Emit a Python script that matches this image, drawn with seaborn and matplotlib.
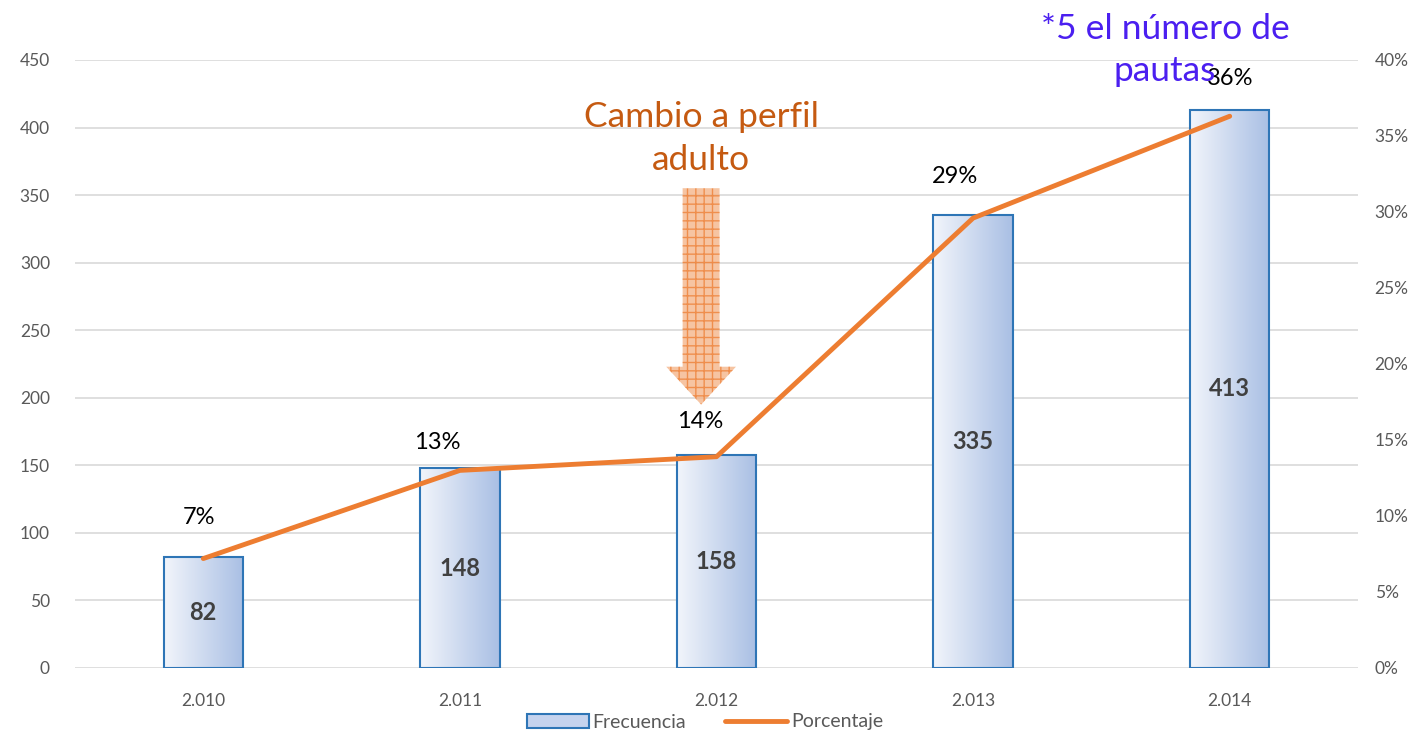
import numpy as np
import pandas as pd
import seaborn as sns
import matplotlib.pyplot as plt
from matplotlib.patches import Patch, FancyArrow
from matplotlib.lines import Line2D
from matplotlib.colors import LinearSegmentedColormap

# datos
anios = ['2.010', '2.011', '2.012', '2.013', '2.014']
frecuencia = [82, 148, 158, 335, 413]
porcentaje = [7.2, 13.0, 13.9, 29.6, 36.3]
etiquetas_pct = ['7%', '13%', '14%', '29%', '36%']
ticks_izq = [0, 50, 100, 150, 200, 250, 300, 350, 400, 450]
ticks_der = [0, 5, 10, 15, 20, 25, 30, 35, 40]

df = pd.DataFrame({'Año': anios, 'Frecuencia': frecuencia, 'Porcentaje': porcentaje})

sns.set_style('white')
plt.rcParams['font.family'] = ['Lato', 'DejaVu Sans']

gris = '#595959'
naranja = '#ed7d31'
azul_borde = '#2e75b6'

fig = plt.figure(figsize=(14.23, 7.36), dpi=100)
ax = fig.add_axes([75 / 1423, 1 - 668 / 736, (1358 - 75) / 1423, (668 - 60) / 736])

sns.barplot(data=df, x='Año', y='Frecuencia', ax=ax, width=0.31,
            color='#c5d3ee', edgecolor=azul_borde, linewidth=1.5, zorder=3)

# degradado dentro de las barras
cmap = LinearSegmentedColormap.from_list('grad', ['#f2f5fb', '#a9bfe4'])
grad = np.linspace(0, 1, 256).reshape(1, -1)
for p in ax.patches:
    x0, w, h = p.get_x(), p.get_width(), p.get_height()
    im = ax.imshow(grad, cmap=cmap, aspect='auto', extent=[x0, x0 + w, 0, h],
                   zorder=3.5)
    im.set_clip_path(p)
    p.set_facecolor('none')
    p.set_zorder(4)
    ax.text(x0 + w / 2, h / 2, str(int(h)), ha='center', va='center',
            fontsize=17, fontweight='bold', color='#404040', zorder=6)

ax.set_xlim(-0.5, 4.5)
ax.set_ylim(0, 450)
ax.set_yticks(ticks_izq)
ax.set_xlabel('')
ax.set_ylabel('')
ax.grid(axis='y', color='#d9d9d9', linewidth=1.2, zorder=0)
ax.set_axisbelow(True)
for s in ax.spines.values():
    s.set_visible(False)
ax.tick_params(axis='both', length=0, colors=gris, labelsize=12.5)
ax.tick_params(axis='x', pad=18)
ax.tick_params(axis='y', pad=18)

ax2 = ax.twinx()
sns.lineplot(x=np.arange(len(anios)), y=porcentaje, ax=ax2, color=naranja,
             linewidth=3.5, zorder=5)
ax2.set_ylim(0, 40)
ax2.set_yticks(ticks_der)
ax2.set_yticklabels([f'{v}%' for v in ticks_der])
ax2.tick_params(axis='y', length=0, colors=gris, labelsize=12.5, pad=12)
for s in ax2.spines.values():
    s.set_visible(False)
ax2.grid(False)

dx_pct = [-3, -16, -11.5, -13, 0]
dy_pct = [29.5, 20, 25, 30, 27]
for i, (v, lab) in enumerate(zip(porcentaje, etiquetas_pct)):
    ax2.annotate(lab, (i, v), xytext=(dx_pct[i], dy_pct[i]), textcoords='offset points',
                 ha='center', va='center', fontsize=17, color='black', zorder=7)

# flecha de cambio
flecha = FancyArrow(1.94, 355, 0, -160, width=0.144, head_width=0.272,
                    head_length=28, length_includes_head=True,
                    facecolor='#f4b183', edgecolor=naranja, hatch='++',
                    linewidth=0, alpha=0.75, zorder=6)
ax.add_patch(flecha)
ax.text(1.94, 392, 'Cambio a perfil\nadulto', ha='center', va='center',
        fontsize=25.5, color='#c55a11', linespacing=1.4, zorder=7)

fig.text(1165 / 1423, 1 - 50 / 736, '*5 el número de\npautas', ha='center',
         va='center', fontsize=25.5, color='#4b1ff0', linespacing=1.4)

handles = [Patch(facecolor='#c5d3ee', edgecolor=azul_borde, linewidth=1.5),
           Line2D([0], [0], color=naranja, linewidth=3.5)]
fig.legend(handles, ['Frecuencia', 'Porcentaje'], loc='center',
           bbox_to_anchor=(705 / 1423, 1 - 722 / 736), ncol=2, frameon=False,
           fontsize=14, labelcolor=gris, handlelength=3.2, columnspacing=2,
           handletextpad=0.2)

fig.savefig('out.png', dpi=100)
